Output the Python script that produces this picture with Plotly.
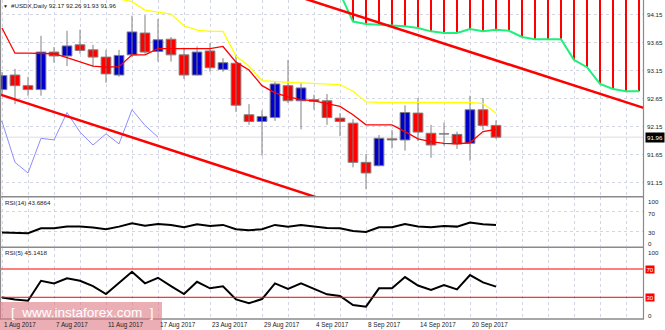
import plotly.graph_objects as go

# ---------------- data ----------------
tick_idx = [0, 4, 8, 12, 16, 20, 24, 28, 32, 36]
tick_text = ["1 Aug 2017", "7 Aug 2017", "11 Aug 2017", "17 Aug 2017", "23 Aug 2017",
             "29 Aug 2017", "4 Sep 2017", "8 Sep 2017", "14 Sep 2017", "20 Sep 2017"]

open_ = [92.81, 93.07, 92.88, 92.81, 93.48, 93.41, 93.61, 93.52, 93.39, 93.07,
         93.43, 93.82, 93.49, 93.71, 93.43, 93.07, 93.50, 93.17, 93.28, 92.36,
         92.24, 92.31, 92.88, 92.61, 92.63, 92.61, 92.30, 92.21, 91.51, 91.45,
         91.93, 91.91, 92.39, 92.03, 92.015, 92.01, 91.85, 92.45, 92.17]
high = [93.12, 93.18, 93.04, 93.77, 93.57, 93.86, 93.88, 93.61, 93.52, 93.52,
        94.13, 94.14, 94.07, 93.75, 93.56, 93.58, 93.64, 93.37, 93.43, 92.55,
        92.44, 92.95, 93.34, 92.93, 92.72, 92.73, 92.39, 92.28, 91.66, 92.00,
        92.09, 92.53, 92.66, 92.18, 92.22, 92.06, 92.70, 92.66, 92.26]
low = [92.72, 92.55, 92.70, 92.70, 93.29, 93.23, 93.45, 93.22, 92.93, 93.04,
       93.39, 93.45, 93.31, 93.31, 93.00, 93.06, 93.13, 93.13, 92.41, 92.18,
       91.63, 92.25, 92.57, 92.10, 92.45, 92.18, 91.98, 91.42, 91.03, 91.44,
       91.76, 91.72, 91.89, 91.59, 91.81, 91.75, 91.54, 92.09, 91.93]
close = [93.06, 92.88, 92.81, 93.48, 93.41, 93.59, 93.51, 93.39, 93.09, 93.42,
         93.84, 93.48, 93.70, 93.43, 93.07, 93.48, 93.20, 93.29, 92.53, 92.24,
         92.33, 92.91, 92.61, 92.84, 92.60, 92.31, 92.24, 91.51, 91.32, 91.94,
         91.91, 92.40, 92.05, 91.82, 92.02, 91.84, 92.45, 92.17, 91.96]

# Ichimoku
tenkan = [93.91, 93.46, 93.46, 93.46, 93.45, 93.38, 93.30, 93.23, 93.21, 93.22,
          93.43, 93.43, 93.54, 93.54, 93.54, 93.54, 93.54, 93.58, 93.30, 93.16,
          92.88, 92.75, 92.68, 92.63, 92.61, 92.56, 92.51, 92.36, 92.18, 92.18,
          92.18, 92.06, 91.93, 91.88, 91.85, 91.84, 91.86, 92.06, 92.10]
kijun = [94.60, 94.60, 94.60, 94.60, 94.60, 94.60, 94.60, 94.60, 94.60, 94.43,
         94.38, 94.23, 94.20, 94.16, 93.95, 93.87, 93.85, 93.85, 93.41, 93.23,
         92.97, 92.95, 92.94, 92.93, 92.92, 92.91, 92.90, 92.78, 92.59, 92.58,
         92.58, 92.58, 92.58, 92.58, 92.58, 92.58, 92.58, 92.56, 92.39]
cloud_start = 25
senkou_lower = [94.70, 94.53, 94.025, 93.98, 93.97, 93.96, 93.94, 93.91, 93.85, 93.82,
                93.82, 93.89, 93.85, 93.88, 93.86, 93.75, 93.71, 93.71, 93.71, 93.34,
                93.21, 92.91, 92.82, 92.78, 92.78]
senkou_upper = [95.10, 95.08, 95.06, 95.05, 95.03, 95.01, 95.00, 94.98, 94.96, 94.95,
                94.93, 94.91, 94.90, 94.88, 94.86, 94.85, 94.83, 94.81, 94.80, 94.78,
                94.76, 94.75, 94.73, 94.71, 94.70]
chikou_shift = 26

# trend lines: (bar index, price) anchor pairs
support_line = [(0, 92.71), (24, 90.90)]
resistance_line = [(24, 94.38), (49, 92.51)]

rsi14 = [28.0, 27.3, 26.7, 36.9, 36.9, 40.2, 40.2, 38.2, 34.9, 40.2,
         47.1, 42.2, 45.7, 43.7, 39.0, 45.1, 41.6, 43.7, 34.9, 32.9,
         34.9, 43.7, 40.2, 43.7, 40.2, 37.6, 36.9, 31.4, 29.4, 39.0,
         39.0, 45.3, 40.6, 39.0, 41.6, 40.2, 48.4, 45.1, 43.6864]
rsi5 = [29.7, 26.8, 25.1, 53.4, 49.7, 56.8, 53.4, 45.9, 34.6, 50.6,
        66.1, 49.7, 57.6, 45.9, 34.6, 52.0, 42.7, 45.5, 27.1, 21.5,
        27.5, 49.7, 41.7, 49.7, 41.7, 34.2, 31.8, 19.1, 16.7, 42.7,
        42.7, 58.6, 46.6, 40.3, 47.3, 41.2, 61.4, 51.1, 45.1418]
rsi_levels = [30, 70]
price_ticks = [91.15, 91.65, 92.15, 92.65, 93.15, 93.65, 94.15]

# ---------------- geometry ----------------
W, H = 665, 330
ML, MR, MT, MB = 0, 21, 0, 11
PW, PH = W - ML - MR, H - MT - MB
BAR_PX, FIRST_PX = 13.0, 2.0


def yp(px):
    """pixel row inside the plotting area -> paper y"""
    return 1 - px / PH


def xp(px):
    return px / PW


BLUE, RED, GREY = "#0000cd", "#ff0000", "#808080"
GRID = "#d3d6e0"
FONT = "Liberation Sans"
n = len(close)
idx = list(range(n))

fig = go.Figure()

# cloud hatching + lower span
cx = list(range(cloud_start, cloud_start + len(senkou_lower)))
hx, hy = [], []
for x, lo, hi in zip(cx, senkou_lower, senkou_upper):
    hx += [x, x, None]
    hy += [lo, hi, None]
fig.add_trace(go.Scatter(x=hx, y=hy, mode="lines", line=dict(color=RED, width=2)))
fig.add_trace(go.Scatter(x=cx, y=senkou_lower, mode="lines", line=dict(color="#1ff07a", width=2)))

# chikou span
ch_x = [i - chikou_shift for i in range(cloud_start, n)]
fig.add_trace(go.Scatter(x=ch_x, y=close[cloud_start:], mode="lines",
                         line=dict(color="#8c8cff", width=1)))

# bid line
fig.add_shape(type="line", xref="paper", yref="y", x0=0, x1=1, y0=close[-1], y1=close[-1],
              line=dict(color="#dcdce8", width=1), layer="below")

# candles: wicks then bodies
wx, wy = [], []
for i in idx:
    wx += [i, i, None]
    wy += [low[i], high[i], None]
fig.add_trace(go.Scatter(x=wx, y=wy, mode="lines", line=dict(color=GREY, width=1)))
fig.add_trace(go.Bar(x=idx, y=[c - o for o, c in zip(open_, close)], base=open_, width=0.75,
                     marker=dict(color=[BLUE if c >= o else RED for o, c in zip(open_, close)],
                                 line=dict(color=GREY, width=1))))

# tenkan / kijun
fig.add_trace(go.Scatter(x=idx, y=kijun, mode="lines", line=dict(color="#ffff00", width=1.3)))
fig.add_trace(go.Scatter(x=idx, y=tenkan, mode="lines", line=dict(color=RED, width=1.3)))

# trend lines
for line in (support_line, resistance_line):
    (x0, y0), (x1, y1) = line
    slope = (y1 - y0) / (x1 - x0)
    xa, xb = x0 - 3, x1 + 3
    fig.add_trace(go.Scatter(x=[xa, xb], y=[y0 + slope * (xa - x0), y0 + slope * (xb - x0)],
                             mode="lines", line=dict(color=RED, width=2.5)))

# RSI panels
fig.add_trace(go.Scatter(x=idx, y=rsi14, mode="lines", line=dict(color="black", width=2),
                         xaxis="x", yaxis="y2"))
for lv in rsi_levels:
    fig.add_shape(type="line", xref="paper", yref="y3", x0=0, x1=1, y0=lv, y1=lv,
                  line=dict(color=RED, width=1))
fig.add_trace(go.Scatter(x=idx, y=rsi5, mode="lines", line=dict(color="black", width=2),
                         xaxis="x", yaxis="y3"))

# frame: separators, bottom, left and right edges
for py in (196.7, 247.2, PH):
    fig.add_shape(type="line", xref="paper", yref="paper", x0=0, x1=1, y0=yp(py), y1=yp(py),
                  line=dict(color="#8a8a8a", width=1.5))
for px in (0.5, PW - 0.5):
    fig.add_shape(type="line", xref="paper", yref="paper", x0=xp(px), x1=xp(px), y0=0, y1=1,
                  line=dict(color="#8a8a8a", width=1.2))

ann = []
small = dict(family=FONT, size=6.2, color="#222")
# title and sub-window labels
ann.append(dict(x=xp(1), y=yp(5.5), text="▼", font=dict(family=FONT, size=5, color="#222")))
ann.append(dict(x=xp(9), y=yp(5.5),
                text=f"#USDX,Daily {open_[-1]:.2f} {high[-1]:.2f} {low[-1]:.2f} {close[-1]:.2f}",
                font=small))
ann.append(dict(x=xp(3), y=yp(202.3), text=f"RSI(14) {rsi14[-1]:.4f}", font=small))
ann.append(dict(x=xp(3), y=yp(252.3), text=f"RSI(5) {rsi5[-1]:.4f}", font=small))
for a in ann:
    a.update(xref="paper", yref="paper", xanchor="left", yanchor="middle", showarrow=False)

# RSI scale labels
for txt, py in (("100", 201), ("70", 213), ("30", 232.7), ("0", 243.3), ("100", 252.3), ("0", 315)):
    ann.append(dict(x=1, y=yp(py), xref="paper", yref="paper", xanchor="left", yanchor="middle",
                    xshift=2, text=txt, showarrow=False, font=small))
for lv in rsi_levels:
    ann.append(dict(x=1, y=lv, xref="paper", yref="y3", xanchor="left", yanchor="middle",
                    xshift=1, text=str(lv), showarrow=False, bgcolor=RED, borderpad=0.5,
                    font=dict(family=FONT, size=6, color="white")))
# last price marker
ann.append(dict(x=1, y=close[-1], xref="paper", yref="y", xanchor="left", yanchor="middle",
                xshift=1, text=f"{close[-1]:.2f}", showarrow=False, bgcolor="black", borderpad=1,
                font=dict(family=FONT, size=6.2, color="white")))

# watermark
fig.add_shape(type="rect", xref="paper", yref="paper", x0=0, x1=xp(162), y0=yp(302), y1=yp(H - MT),
              fillcolor="rgba(225,125,135,0.62)", line=dict(width=0), layer="above")
ann.append(dict(x=xp(82), y=yp(312.3), xref="paper", yref="paper", xanchor="center", yanchor="middle",
                text="[  www.instaforex.com  ]", showarrow=False,
                font=dict(family=FONT, size=13.5, color="white")))

# date labels
for k, t in zip(tick_idx, tick_text):
    ann.append(dict(x=k, y=yp(325), xref="x", yref="paper", xanchor="left", yanchor="middle",
                    text=t, showarrow=False, font=dict(family=FONT, size=6.3, color="#222")))

fig.update_layout(
    width=W, height=H, margin=dict(l=ML, r=MR, t=MT, b=MB),
    paper_bgcolor="white", plot_bgcolor="white", showlegend=False, hovermode=False,
    annotations=ann,
    xaxis=dict(range=[-FIRST_PX / BAR_PX, (PW - FIRST_PX) / BAR_PX], anchor="y3",
               showticklabels=False, ticks="", showgrid=True, gridcolor=GRID, griddash="dot",
               gridwidth=1, tick0=0, dtick=2, zeroline=False, showline=False),
    yaxis=dict(domain=[yp(196.5), 1], range=[90.90, 94.41], side="right", anchor="x",
               tickvals=price_ticks, ticktext=[f"{v:.2f}" for v in price_ticks],
               tickfont=small, ticks="", ticklabelstandoff=2,
               showgrid=True, gridcolor=GRID, griddash="dot", zeroline=False, showline=False),
    yaxis2=dict(domain=[yp(246.4), yp(197.2)], range=[0, 100], anchor="x", side="right",
                tickvals=rsi_levels, showticklabels=False, ticks="",
                showgrid=True, gridcolor=GRID, griddash="dot", zeroline=False, showline=False),
    yaxis3=dict(domain=[0, yp(247.8)], range=[-0.7, 100], anchor="x", side="right",
                showticklabels=False, ticks="", showgrid=False, zeroline=False, showline=False),
)

fig.write_html("out.html")
